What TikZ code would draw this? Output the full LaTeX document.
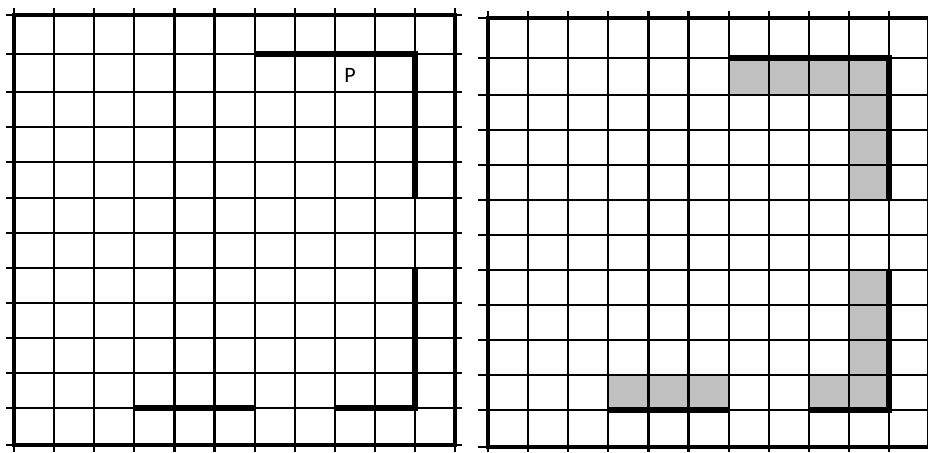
\documentclass[tikz,border=0pt]{standalone}
\usepackage{fontspec}
\newfontfamily\pfont{Carlito}
\begin{document}
\begin{tikzpicture}[x=1pt,y=-1pt,
  gridline/.style={line width=2.2pt,black},
  frameline/.style={line width=4.5pt,black,line join=miter},
  wall/.style={line width=6pt,black,line join=miter,line cap=butt},
  shade/.style={fill={rgb,255:red,192;green,192;blue,192}}]
\useasboundingbox (0,0) rectangle (928,452);
% ---------- left grid ----------
\foreach \i in {0,...,11} \draw[gridline] ({14+40.1*\i},8) -- ({14+40.1*\i},452);
\foreach \y in {15,54,92,127,162,198,233,268,303,338,373,408,445} \draw[gridline] (6,\y) -- (462,\y);
\draw[frameline] (14,15) rectangle (455.1,445);
\draw[wall] (254.6,54) -- (415,54) -- (415,198);
\draw[wall] (415,268) -- (415,408) -- (334.8,408);
\draw[wall] (134.3,408) -- (254.6,408);
\node[font=\pfont\fontsize{22}{22}\selectfont,inner sep=0pt,text=black] (P) at (350,75) {P};
% ---------- right grid ----------
\fill[shade] (728.6,58) rectangle (889,95);
\fill[shade] (848.9,95) rectangle (889,200);
\fill[shade] (848.9,270) rectangle (889,410);
\fill[shade] (808.8,375) rectangle (848.9,410);
\fill[shade] (608.3,375) rectangle (728.6,410);
\foreach \i in {0,...,11} \draw[gridline] ({488+40.1*\i},11) -- ({488+40.1*\i},452);
\foreach \y in {18,58,95,130,165,200,235,270,305,340,375,410,447} \draw[gridline] (478,\y) -- (935,\y);
\draw[frameline] (488,18) rectangle (929.1,447);
\draw[wall] (728.6,58) -- (889,58) -- (889,200);
\draw[wall] (889,270) -- (889,410) -- (808.8,410);
\draw[wall] (608.3,410) -- (728.6,410);
\end{tikzpicture}
\end{document}
